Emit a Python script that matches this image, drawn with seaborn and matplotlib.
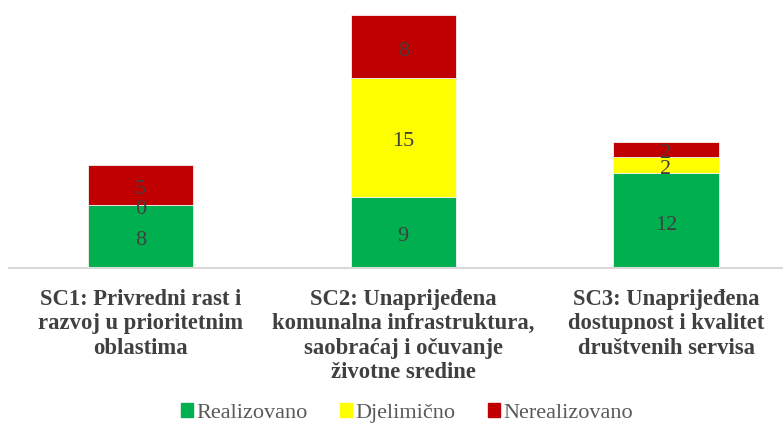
import matplotlib
matplotlib.use("Agg")
import matplotlib.pyplot as plt
import matplotlib.patches as mpatches
import seaborn as sns
import pandas as pd
import numpy as np

categories = [
    "SC1: Privredni rast i\nrazvoj u prioritetnim\noblastima",
    "SC2: Unaprijeđena\nkomunalna infrastruktura,\nsaobraćaj i očuvanje\nživotne sredine",
    "SC3: Unaprijeđena\ndostupnost i kvalitet\ndruštvenih servisa",
]
series_names = ["Realizovano", "Djelimično", "Nerealizovano"]
realizovano = [8, 9, 12]
djelimicno = [0, 15, 2]
nerealizovano = [5, 8, 2]
colors = ["#00B050", "#FFFF00", "#C00000"]

sns.set_theme(style="white")
plt.rcParams["font.family"] = ["Liberation Serif", "DejaVu Serif"]

fig = plt.figure(figsize=(7.83, 4.30), dpi=100)
ax = fig.add_axes([9 / 783, (430 - 268) / 430, 774 / 783, (268 - 15) / 430])

keys = ["c0", "c1", "c2"]
df = pd.DataFrame({"cat": keys, "Realizovano": realizovano,
                   "Djelimično": djelimicno, "Nerealizovano": nerealizovano})

bottom = np.zeros(len(keys))
for name, col in zip(series_names, colors):
    sns.barplot(data=df, x="cat", y=name, bottom=bottom, color=col, width=0.4,
                saturation=1, edgecolor="#f2f2f2", linewidth=0.6, ax=ax)
    bottom = bottom + df[name].values

for cont in ax.containers:
    texts = ax.bar_label(cont, label_type="center", fontsize=16, color="#404040")
    for t in texts:
        t.xyann = (0, -3.2)

ax.set_xlim(-0.5, 2.445)
ax.set_ylim(0, 32)
ax.set_xlabel("")
ax.set_ylabel("")
ax.set_yticks([])
ax.set_xticks(range(len(categories)))
ax.set_xticklabels(categories, fontsize=16.3, fontweight="bold", color="#404040",
                   linespacing=1.21)
ax.tick_params(axis="x", length=0, pad=15)
for s in ["top", "right", "left"]:
    ax.spines[s].set_visible(False)
ax.spines["bottom"].set_color("#d9d9d9")
ax.spines["bottom"].set_linewidth(1.5)

handles = [mpatches.Patch(color=c, label=n) for n, c in zip(series_names, colors)]
fig.legend(handles=handles, loc="center", bbox_to_anchor=(407 / 783, (430 - 413) / 430),
           ncol=3, frameon=False, fontsize=16, handlelength=0.55, handleheight=0.55,
           handletextpad=0.15, columnspacing=1.45, labelcolor="#595959")

fig.savefig("out.png", dpi=100)
